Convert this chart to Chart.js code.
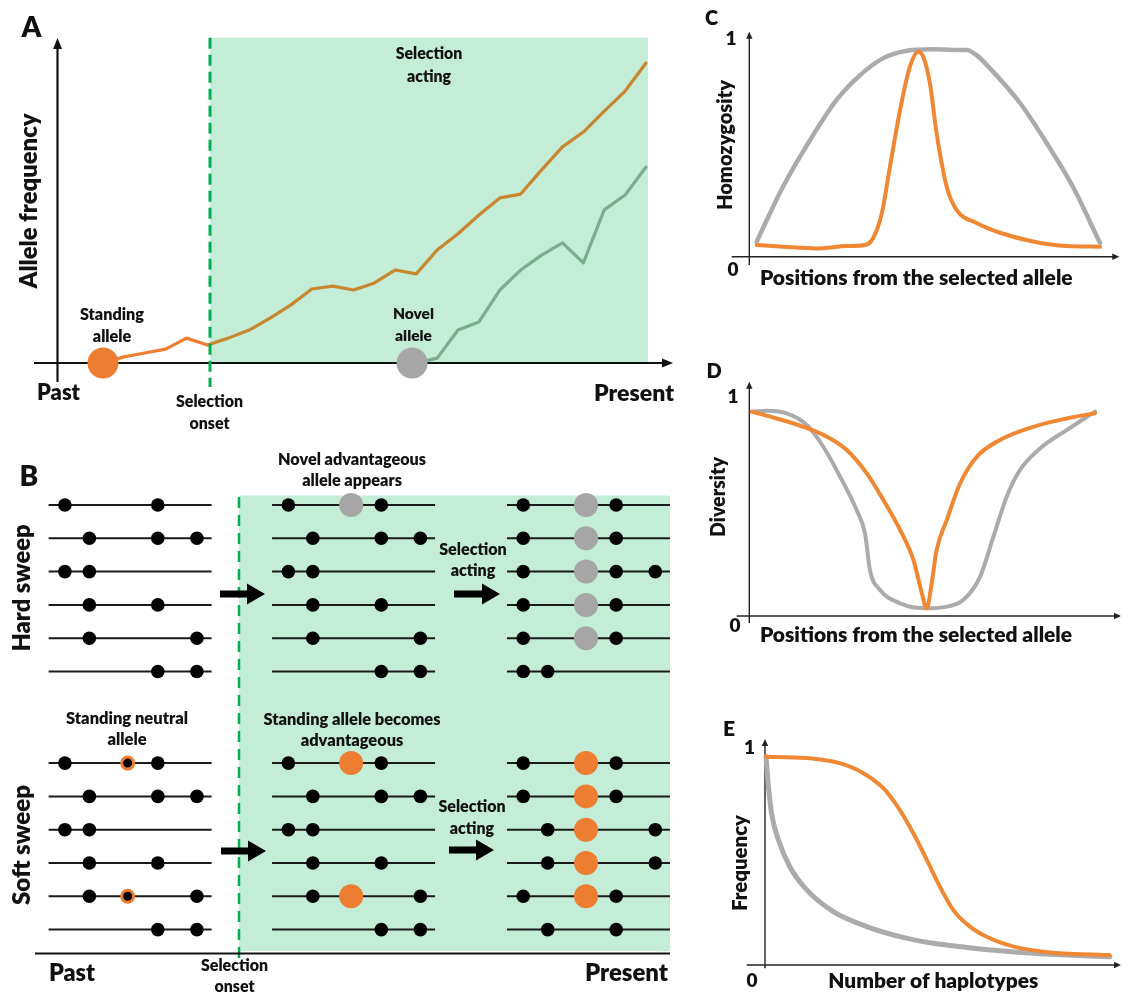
<!DOCTYPE html>
<html><head><meta charset="utf-8">
<title>Hard and soft selective sweeps</title>
<script src="https://cdn.jsdelivr.net/npm/chart.js@4.4.1/dist/chart.umd.min.js"></script>
<style>
html,body{margin:0;padding:0;background:#ffffff;}
body{position:relative;width:1122px;height:994px;overflow:hidden;}
canvas{position:absolute;display:block;}
</style></head>
<body>
<canvas id="chartA"></canvas>
<canvas id="chartB"></canvas>
<canvas id="chartC"></canvas>
<canvas id="chartD"></canvas>
<canvas id="chartE"></canvas>
<script>
// ================= DATA =================
// Panel A – allele frequency through time (time steps)
const timePre = [0, 1, 2, 3, 4, 5];
const standingFreqPre = [0, 0.019, 0.031, 0.043, 0.077, 0.056];
const timeSel = [5, 6, 7, 8, 9, 10, 11, 12, 13, 14, 15, 16, 17, 18, 19, 20, 21, 22, 23, 24, 25, 26];
const standingFreqSel = [0.056, 0.077, 0.102, 0.139, 0.180, 0.229, 0.238, 0.226, 0.248, 0.288, 0.276,
                         0.350, 0.400, 0.458, 0.511, 0.523, 0.598, 0.669, 0.715, 0.780, 0.842, 0.929];
const timeNovel = [15, 16, 17, 18, 19, 20, 21, 22, 23, 24, 25, 26];
const novelFreq = [0, 0.015, 0.102, 0.127, 0.226, 0.288, 0.334, 0.372, 0.310, 0.474, 0.520, 0.607];
const standingAlleleTime = 0;
const novelAlleleTime = 14.8;
const timeEndLabels = ['Past', 'Present'];

// Panel B – haplotypes (SNP positions along a 0–100 haplotype)
const selectedSite = 48.5;
const hardPast    = [[10, 67], [25, 67, 91], [10, 25], [25, 67], [25, 91], [67, 91]];
const hardOnset   = [[10, 67], [25, 67, 91], [10, 25], [25, 67], [25, 91], [67, 91]];
const hardPresent = [[10, 67], [10, 67], [10, 67, 91], [10, 67], [10, 67], [10, 25]];
const hardCarriersOnset = [0];
const hardCarriersPresent = [0, 1, 2, 3, 4];
const softPast    = [[10, 67], [25, 67, 91], [10, 25], [25, 67], [25, 91], [67, 91]];
const softOnset   = [[10, 67], [25, 67, 91], [10, 25], [25, 67], [25, 91], [67, 91]];
const softPresent = [[10, 67], [10, 67], [25, 91], [25, 91], [10, 67], [25, 67]];
const softNeutralCarriersPast = [0, 4];
const softCarriersOnset = [0, 4];
const softCarriersPresent = [0, 1, 2, 3, 4];

// Panel C – homozygosity vs position
const posHomHard = [2.1, 9.6, 17.3, 24.9, 31.6, 38.1, 44.9, 52.4, 58.1, 62.0, 64.8, 69.5, 77.2, 84.8, 92.3, 100];
const homHard    = [0.069, 0.321, 0.535, 0.720, 0.834, 0.911, 0.946, 0.953, 0.950, 0.950, 0.926, 0.850, 0.706, 0.522, 0.320, 0.063];
const posHomSoft = [2.1, 9.6, 19.2, 27.8, 33.0, 35.3, 37.8, 40.1, 43.0, 45.8, 48.2, 49.6, 51.5, 53.4, 56.3, 59.1, 64.8, 71.5, 80.9, 90.5, 100];
const homSoft    = [0.054, 0.046, 0.038, 0.049, 0.054, 0.085, 0.200, 0.413, 0.674, 0.873, 0.942, 0.918, 0.797, 0.568, 0.320, 0.215, 0.155, 0.110, 0.070, 0.049, 0.046];

// Panel D – diversity vs position
const posDivHard = [0.7, 5.0, 10.7, 16.4, 21.1, 25.9, 30.6, 33.0, 34.4, 37.3, 43.0, 50.6, 56.3, 61.0, 65.8, 69.6, 73.4, 77.2, 82.9, 90.5, 98.6];
const divHard    = [0.933, 0.937, 0.925, 0.872, 0.773, 0.636, 0.484, 0.377, 0.210, 0.119, 0.058, 0.035, 0.043, 0.073, 0.179, 0.362, 0.545, 0.667, 0.765, 0.849, 0.933];
const posDivSoft = [0.7, 7.8, 15.4, 22.1, 27.8, 33.5, 38.2, 43.0, 46.8, 49.2, 50.6, 52.0, 53.4, 56.3, 60.1, 64.8, 71.5, 81.0, 90.5, 98.6];
const divSoft    = [0.933, 0.902, 0.864, 0.819, 0.758, 0.651, 0.530, 0.393, 0.256, 0.104, 0.035, 0.149, 0.301, 0.438, 0.605, 0.726, 0.804, 0.864, 0.902, 0.926];

// Panel E – haplotype frequency spectrum
const rankHard = [0.3, 1.0, 1.9, 3.9, 7.2, 12.1, 19.8, 29.5, 39.1, 48.8, 58.5, 68.1, 77.8, 87.4, 100];
const freqHard = [0.960, 0.822, 0.699, 0.576, 0.453, 0.346, 0.246, 0.177, 0.131, 0.100, 0.081, 0.066, 0.054, 0.046, 0.038];
const rankSoft = [0.3, 6.3, 14.0, 21.7, 28.5, 34.3, 39.1, 43.0, 46.9, 50.7, 54.6, 59.4, 65.2, 73.0, 82.6, 90.3, 99.8];
const freqSoft = [0.960, 0.957, 0.951, 0.930, 0.884, 0.815, 0.714, 0.607, 0.484, 0.361, 0.253, 0.177, 0.123, 0.081, 0.058, 0.051, 0.046];

const yTickLabels = ['0', '1'];
const positionTitle = 'Positions from the selected allele';
const haplotypeTitle = 'Number of haplotypes';

// ================= STYLE / LAYOUT =================
const ORANGE = '#ED7D31', GOLD = '#C8862E', SAGE = '#7DAB8F', GREY = '#A6A6A6';
const CURVE_GREY = '#ABABAB', CURVE_ORANGE = '#F08732';
const BG_GREEN = '#C3EDD6', DASH_GREEN = '#00B050', INK = '#111111';
const FONT = 'Lato, "Open Sans", "DejaVu Sans", sans-serif';
const DRAW_WEIGHT = '800';

function frame(left, top, w, h, x0, xs, y0, ys, down) {
  return down
    ? {left, top, w, h, xMin: (left - x0) / xs, xMax: (left + w - x0) / xs, yMin: (top - y0) / ys, yMax: (top + h - y0) / ys, reverse: true}
    : {left, top, w, h, xMin: (left - x0) / xs, xMax: (left + w - x0) / xs, yMin: (y0 - top - h) / ys, yMax: (y0 - top) / ys, reverse: false};
}
const FA = frame(0, 0, 690, 440, 103, 20.885, 363, 323, false);
const FB = frame(0, 440, 690, 554, 48.6, 1.63, 505, 33.3, true);
const FC = frame(700, 0, 422, 300, 749.3, 3.507, 256.7, 217.7, false);
const FD = frame(700, 330, 422, 315, 749.3, 3.507, 616, 219, false);
const FE = frame(700, 690, 422, 304, 765, 3.45, 965, 217, false);

function conv(fr) { return (x, y) => [x - fr.left, y - fr.top]; }

function maxWidth(ctx, lines, weight, size) {
  ctx.font = weight + ' ' + size + 'px ' + FONT;
  let m = 0;
  for (const l of lines) m = Math.max(m, ctx.measureText(l).width);
  return m;
}
function drawLabels(ctx, P, labels) {
  for (const lab of labels) {
    const size = lab.size || 100 * lab.w / maxWidth(ctx, lab.lines, 'bold', 100);
    let sx = 1;
    if (lab.w) sx = lab.w / maxWidth(ctx, lab.lines, DRAW_WEIGHT, size);
    ctx.save();
    ctx.fillStyle = INK;
    ctx.font = DRAW_WEIGHT + ' ' + size.toFixed(2) + 'px ' + FONT;
    ctx.textAlign = lab.align || 'center';
    ctx.textBaseline = 'middle';
    lab.lines.forEach((l, i) => {
      const [cx, cy] = P(lab.x, lab.ys[i]);
      ctx.save();
      ctx.translate(cx, cy);
      if (lab.rot) ctx.rotate(-Math.PI / 2);
      ctx.scale(sx, 1);
      ctx.fillText(l, 0, 0);
      ctx.restore();
    });
    ctx.restore();
  }
}
function arrowLine(ctx, a, b, lw, hl, hw, color) {
  const [x1, y1] = a, [x2, y2] = b;
  const ang = Math.atan2(y2 - y1, x2 - x1), c = Math.cos(ang), s = Math.sin(ang);
  ctx.save();
  ctx.strokeStyle = color; ctx.fillStyle = color; ctx.lineWidth = lw; ctx.lineCap = 'butt';
  ctx.beginPath(); ctx.moveTo(x1, y1); ctx.lineTo(x2 - c * hl * 0.7, y2 - s * hl * 0.7); ctx.stroke();
  ctx.beginPath(); ctx.moveTo(x2, y2);
  ctx.lineTo(x2 - hl * c + hw * s, y2 - hl * s - hw * c);
  ctx.lineTo(x2 - hl * c - hw * s, y2 - hl * s + hw * c);
  ctx.closePath(); ctx.fill();
  ctx.restore();
}
function blockArrow(ctx, a, b, sh, hw, hl) {
  const [x1, y] = a, [x2] = b;
  ctx.save(); ctx.fillStyle = '#000';
  ctx.beginPath();
  ctx.moveTo(x1, y - sh / 2); ctx.lineTo(x2 - hl, y - sh / 2); ctx.lineTo(x2 - hl, y - hw / 2);
  ctx.lineTo(x2, y); ctx.lineTo(x2 - hl, y + hw / 2); ctx.lineTo(x2 - hl, y + sh / 2); ctx.lineTo(x1, y + sh / 2);
  ctx.closePath(); ctx.fill(); ctx.restore();
}
function dashedV(ctx, a, b, lw, dash, color) {
  ctx.save(); ctx.strokeStyle = color; ctx.lineWidth = lw; ctx.setLineDash(dash);
  ctx.beginPath(); ctx.moveTo(a[0], a[1]); ctx.lineTo(b[0], b[1]); ctx.stroke(); ctx.restore();
}
function plainLine(ctx, a, b, lw, color) {
  ctx.save(); ctx.strokeStyle = color; ctx.lineWidth = lw;
  ctx.beginPath(); ctx.moveTo(a[0], a[1]); ctx.lineTo(b[0], b[1]); ctx.stroke(); ctx.restore();
}

function lineDS(xs, ys, color, width, smooth) {
  return {
    data: xs.map((x, i) => ({x, y: ys[i]})),
    borderColor: color, borderWidth: width, pointRadius: 0, fill: false,
    tension: 0, cubicInterpolationMode: smooth ? 'monotone' : 'default',
    borderCapStyle: 'round', borderJoinStyle: 'round'
  };
}
function pointDS(points, radius, bg, border, bw) {
  return {
    data: points, showLine: false, pointRadius: radius, pointBackgroundColor: bg,
    pointBorderColor: border || bg, pointBorderWidth: bw || 0, pointHoverRadius: radius
  };
}
function makeChart(id, fr, datasets, plugin) {
  const cv = document.getElementById(id);
  cv.width = fr.w; cv.height = fr.h;
  cv.style.left = fr.left + 'px'; cv.style.top = fr.top + 'px';
  cv.style.width = fr.w + 'px'; cv.style.height = fr.h + 'px';
  return new Chart(cv.getContext('2d'), {
    type: 'line',
    data: {datasets},
    options: {
      responsive: false, maintainAspectRatio: false, animation: false, devicePixelRatio: 1, events: [],
      layout: {padding: 0, autoPadding: false},
      plugins: {legend: {display: false}, tooltip: {enabled: false}, title: {display: false}},
      scales: {
        x: {type: 'linear', display: false, min: fr.xMin, max: fr.xMax},
        y: {type: 'linear', display: false, min: fr.yMin, max: fr.yMax, reverse: fr.reverse}
      }
    },
    plugins: [plugin]
  });
}

const charts = [];

// ================= PANEL A =================
(function () {
  const P = conv(FA);
  const labels = [
    {lines: ['A'], x: 21.5, ys: [28], size: 28, align: 'left'},
    {lines: ['Allele frequency'], x: 29, ys: [201], w: 175, rot: true},
    {lines: [timeEndLabels[0]], x: 58.5, ys: [393], w: 43},
    {lines: [timeEndLabels[1]], x: 634, ys: [393], w: 80},
    {lines: ['Selection', 'onset'], x: 209.5, ys: [402, 424], w: 67},
    {lines: ['Selection', 'acting'], x: 429, ys: [54, 77], w: 66.5},
    {lines: ['Standing', 'allele'], x: 112, ys: [315, 337], w: 64},
    {lines: ['Novel', 'allele'], x: 413.5, ys: [314, 336], w: 41}
  ];
  const plugin = {
    id: 'decorA',
    beforeDatasetsDraw(chart) {
      const ctx = chart.ctx;
      const [gx, gy] = P(210, 37.7), [gx2, gy2] = P(648, 362);
      ctx.save(); ctx.fillStyle = BG_GREEN; ctx.fillRect(gx, gy, gx2 - gx, gy2 - gy); ctx.restore();
      const y0 = chart.scales.y.getPixelForValue(0);
      arrowLine(ctx, P(57.5, 382), P(57.5, 38), 2.2, 11, 4.5, INK);
      arrowLine(ctx, [P(34, 0)[0], y0], [P(673, 0)[0], y0], 2.2, 11, 4.5, INK);
    },
    afterDatasetsDraw(chart) {
      const ctx = chart.ctx;
      dashedV(ctx, P(210, 37.7), P(210, 387), 3, [11, 6], DASH_GREEN);
      drawLabels(ctx, P, labels);
    }
  };
  const circles = pointDS([{x: standingAlleleTime, y: 0}, {x: novelAlleleTime, y: 0}], 15.5, [ORANGE, GREY]);
  charts.push(makeChart('chartA', FA, [
    circles,
    lineDS(timePre, standingFreqPre, ORANGE, 3.2, false),
    lineDS(timeSel, standingFreqSel, GOLD, 3.2, false),
    lineDS(timeNovel, novelFreq, SAGE, 3.2, false)
  ], plugin));
})();

// ================= PANEL B =================
(function () {
  const P = conv(FB);
  const stageOffset = [0, 137.1, 281.2];
  const softShift = 7.75;
  const groups = [
    {rows: hardPast, stage: 0, shift: 0, big: [], color: GREY, rings: []},
    {rows: hardOnset, stage: 1, shift: 0, big: hardCarriersOnset, color: GREY, rings: []},
    {rows: hardPresent, stage: 2, shift: 0, big: hardCarriersPresent, color: GREY, rings: []},
    {rows: softPast, stage: 0, shift: softShift, big: [], color: ORANGE, rings: softNeutralCarriersPast},
    {rows: softOnset, stage: 1, shift: softShift, big: softCarriersOnset, color: ORANGE, rings: []},
    {rows: softPresent, stage: 2, shift: softShift, big: softCarriersPresent, color: ORANGE, rings: []}
  ];
  const linePts = [], black = [], greyBig = [], orangeBig = [], rings = [];
  groups.forEach(g => {
    const off = stageOffset[g.stage];
    g.rows.forEach((sites, r) => {
      const yy = g.shift + r;
      linePts.push({x: off, y: yy}, {x: off + 100, y: yy}, {x: off + 100, y: null});
      sites.forEach(s => black.push({x: off + s, y: yy}));
    });
    g.big.forEach(r => (g.color === GREY ? greyBig : orangeBig).push({x: off + selectedSite, y: g.shift + r}));
    g.rings.forEach(r => rings.push({x: off + selectedSite, y: g.shift + r}));
  });
  const labels = [
    {lines: ['B'], x: 19.5, ys: [477], size: 28, align: 'left'},
    {lines: ['Hard sweep'], x: 22, ys: [588], w: 127, rot: true},
    {lines: ['Soft sweep'], x: 22, ys: [845], w: 120, rot: true},
    {lines: ['Novel advantageous', 'allele appears'], x: 352, ys: [460, 481], w: 148},
    {lines: ['Selection', 'acting'], x: 473, ys: [549.5, 571], w: 67.6},
    {lines: ['Standing neutral', 'allele'], x: 127, ys: [719, 740], w: 122},
    {lines: ['Standing allele becomes', 'advantageous'], x: 352, ys: [720, 741], w: 177},
    {lines: ['Selection', 'acting'], x: 472, ys: [807, 829], w: 67},
    {lines: [timeEndLabels[0]], x: 72, ys: [973], w: 46},
    {lines: [timeEndLabels[1]], x: 626.5, ys: [973], w: 83},
    {lines: ['Selection', 'onset'], x: 234.5, ys: [966, 987], w: 67}
  ];
  const plugin = {
    id: 'decorB',
    beforeDatasetsDraw(chart) {
      const ctx = chart.ctx;
      const [gx, gy] = P(239, 495.5), [gx2, gy2] = P(670, 951);
      ctx.save(); ctx.fillStyle = BG_GREEN; ctx.fillRect(gx, gy, gx2 - gx, gy2 - gy); ctx.restore();
      dashedV(ctx, P(239, 497), P(239, 960), 2.5, [11, 7], DASH_GREEN);
      plainLine(ctx, P(35, 953.5), P(670, 953.5), 2, INK);
    },
    afterDatasetsDraw(chart) {
      const ctx = chart.ctx;
      blockArrow(ctx, P(220, 594), P(265, 594), 7, 21, 18);
      blockArrow(ctx, P(454, 594), P(500, 594), 7, 21, 18);
      blockArrow(ctx, P(221, 851), P(266, 851), 7, 21, 18);
      blockArrow(ctx, P(449, 850), P(494, 850), 7, 21, 18);
      drawLabels(ctx, P, labels);
    }
  };
  const lines = {data: linePts, borderColor: '#1a1a1a', borderWidth: 2, pointRadius: 0, spanGaps: false, tension: 0};
  charts.push(makeChart('chartB', FB, [
    pointDS(greyBig, 12, GREY),
    pointDS(orangeBig, 12, ORANGE),
    pointDS(rings, 6, '#000', ORANGE, 3),
    pointDS(black, 6.8, '#000'),
    lines
  ], plugin));
})();

// ================= PANELS C, D, E =================
function smallPanel(id, fr, letter, yTitle, xTitle, cfg, datasets) {
  const P = conv(fr);
  const labels = [
    {lines: [letter], x: cfg.letter[0], ys: [cfg.letter[1]], size: cfg.letterSize, align: 'left'},
    {lines: [yTitle], x: cfg.yTitle[0], ys: [cfg.yTitle[1]], w: cfg.yTitle[2], rot: true},
    {lines: [xTitle], x: cfg.xTitle[0], ys: [cfg.xTitle[1]], w: cfg.xTitle[2]},
    {lines: [yTickLabels[1]], x: cfg.one[0], ys: [cfg.one[1]], size: 19},
    {lines: [yTickLabels[0]], x: cfg.zero[0], ys: [cfg.zero[1]], size: 19}
  ];
  const plugin = {
    id: 'decor' + letter,
    beforeDatasetsDraw(chart) {
      const ctx = chart.ctx;
      const ax = chart.scales.x.getPixelForValue(0), ay = chart.scales.y.getPixelForValue(0);
      arrowLine(ctx, [ax, P(0, cfg.yAxis[0])[1]], [ax, P(0, cfg.yAxis[1])[1]], 1.4, 7, 3.2, '#222');
      arrowLine(ctx, [P(cfg.xAxis[0], 0)[0], ay], [P(cfg.xAxis[1], 0)[0], ay], 1.4, 7, 3.2, '#222');
    },
    afterDatasetsDraw(chart) { drawLabels(chart.ctx, P, labels); }
  };
  charts.push(makeChart(id, fr, datasets, plugin));
}

smallPanel('chartC', FC, 'C', 'Homozygosity', positionTitle, {
  letter: [705, 19], letterSize: 20, yTitle: [725, 145, 130], xTitle: [916.3, 278, 312.7],
  one: [731, 39], zero: [733, 270], yAxis: [265, 31.7], xAxis: [731.7, 1119.3]
}, [
  lineDS(posHomSoft, homSoft, CURVE_ORANGE, 4, true),
  lineDS(posHomHard, homHard, CURVE_GREY, 4.5, true)
]);

smallPanel('chartD', FD, 'D', 'Diversity', positionTitle, {
  letter: [706.5, 372], letterSize: 20, yTitle: [718.3, 497, 80], xTitle: [916, 635, 312],
  one: [733, 397], zero: [735, 626], yAxis: [623, 381.7], xAxis: [736.7, 1121]
}, [
  lineDS(posDivSoft, divSoft, CURVE_ORANGE, 4, true),
  lineDS(posDivHard, divHard, CURVE_GREY, 4, true)
]);

smallPanel('chartE', FE, 'E', 'Frequency', haplotypeTitle, {
  letter: [723, 729], letterSize: 21, yTitle: [740, 863, 96], xTitle: [933.3, 981, 210],
  one: [749.5, 748], zero: [752, 981], yAxis: [968.3, 739], xAxis: [746.7, 1121]
}, [
  lineDS(rankSoft, freqSoft, CURVE_ORANGE, 4, true),
  lineDS(rankHard, freqHard, CURVE_GREY, 5, true)
]);

if (document.fonts && document.fonts.ready) {
  document.fonts.ready.then(() => charts.forEach(c => c.update('none')));
}
</script>
</body></html>
